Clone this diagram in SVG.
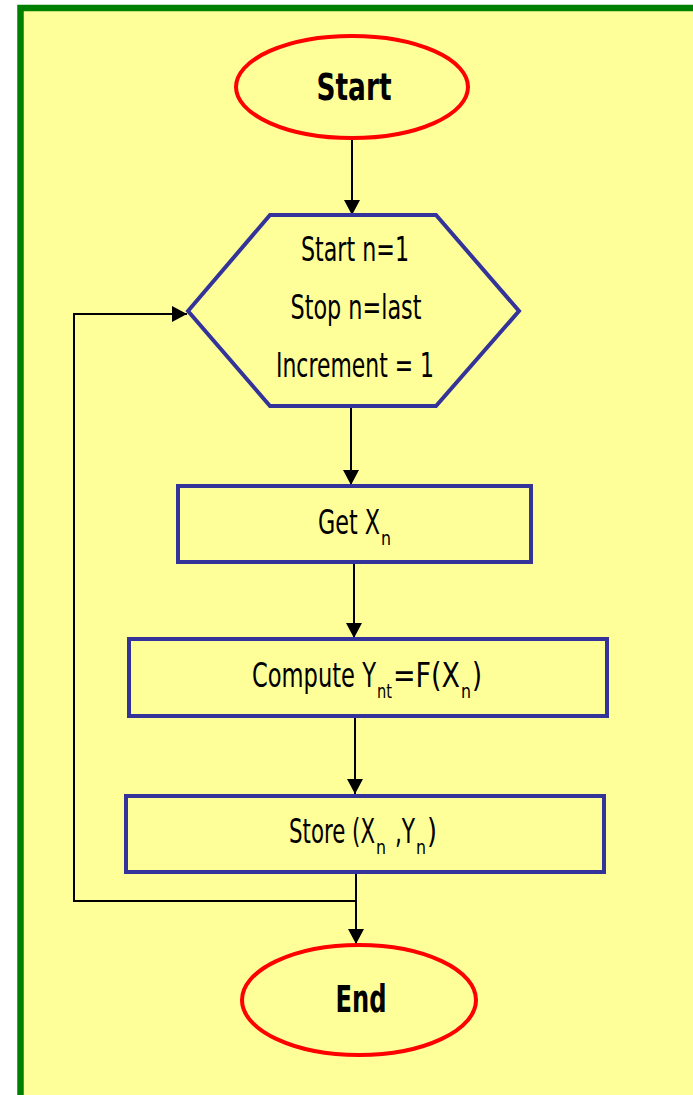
<svg xmlns="http://www.w3.org/2000/svg" width="693" height="1095" viewBox="0 0 693 1095">
<defs>
<style>
.bg{fill:#ffff99;stroke:#008000;stroke-width:6.5}
.term{fill:#ffff99;stroke:#ff0000;stroke-width:4}
.proc{fill:#ffff99;stroke:#333399;stroke-width:4}
.t{font-family:"DejaVu Sans Condensed","DejaVu Sans",sans-serif;fill:#000;font-size:33px}
.b{font-weight:bold;font-size:37px}
.sub{font-size:20px}
.c{fill:none;stroke:#000;stroke-width:2}
</style>
<marker id="ah" markerUnits="userSpaceOnUse" markerWidth="16" markerHeight="16" viewBox="0 0 16 16" refX="15" refY="8" orient="auto">
<path d="M0,0 L15,8 L0,16 Z" fill="#000"/>
</marker>
</defs>
<rect x="0" y="0" width="693" height="1095" fill="#ffffff"/>
<rect class="bg" x="20.5" y="8" width="700" height="1110"/>
<g id="connectors">
<line class="c" x1="352" y1="139" x2="352" y2="215" marker-end="url(#ah)"/>
<line class="c" x1="351" y1="408" x2="351" y2="485" marker-end="url(#ah)"/>
<line class="c" x1="354" y1="564" x2="354" y2="638" marker-end="url(#ah)"/>
<line class="c" x1="355" y1="718" x2="355" y2="794" marker-end="url(#ah)"/>
<line class="c" x1="356" y1="874" x2="356" y2="944" marker-end="url(#ah)"/>
<polyline class="c" points="355,901 74,901 74,314 187,314" marker-end="url(#ah)"/>
</g>
<g id="start">
<ellipse class="term" cx="352" cy="87" rx="116" ry="51"/>
<text class="t b" x="354" y="100" text-anchor="middle" textLength="75" lengthAdjust="spacingAndGlyphs">Start</text>
</g>
<g id="loop">
<polygon class="proc" points="188,311 270,215 436,215 519,311 436,406 270,406"/>
<text class="t" x="355" y="261" text-anchor="middle" textLength="108" lengthAdjust="spacingAndGlyphs">Start n=1</text>
<text class="t" x="356" y="319" text-anchor="middle" textLength="131" lengthAdjust="spacingAndGlyphs">Stop n=last</text>
<text class="t" x="355" y="377" text-anchor="middle" textLength="158" lengthAdjust="spacingAndGlyphs">Increment = 1</text>
</g>
<g id="get">
<rect class="proc" x="178" y="486" width="353" height="76"/>
<text class="t" x="318" y="534"><tspan textLength="62" lengthAdjust="spacingAndGlyphs">Get X</tspan><tspan class="sub" dx="1" dy="11" textLength="10" lengthAdjust="spacingAndGlyphs">n</tspan></text>
</g>
<g id="compute">
<rect class="proc" x="129" y="639" width="478" height="77"/>
<text class="t" x="252" y="687"><tspan textLength="124" lengthAdjust="spacingAndGlyphs">Compute Y</tspan><tspan class="sub" dx="1" dy="11" textLength="15" lengthAdjust="spacingAndGlyphs">nt</tspan><tspan dx="1" dy="-11" textLength="67" lengthAdjust="spacingAndGlyphs">=F(X</tspan><tspan class="sub" dx="1" dy="11" textLength="10" lengthAdjust="spacingAndGlyphs">n</tspan><tspan dx="1" dy="-11" textLength="10" lengthAdjust="spacingAndGlyphs">)</tspan></text>
</g>
<g id="store">
<rect class="proc" x="126" y="796" width="478" height="76"/>
<text class="t" x="289" y="843"><tspan textLength="86" lengthAdjust="spacingAndGlyphs">Store (X</tspan><tspan class="sub" dx="1" dy="11" textLength="10" lengthAdjust="spacingAndGlyphs">n</tspan><tspan dx="2" dy="-11" textLength="27" lengthAdjust="spacingAndGlyphs"> ,Y</tspan><tspan class="sub" dx="1" dy="11" textLength="10" lengthAdjust="spacingAndGlyphs">n</tspan><tspan dx="1" dy="-11" textLength="10" lengthAdjust="spacingAndGlyphs">)</tspan></text>
</g>
<g id="end">
<ellipse class="term" cx="359" cy="1000" rx="117" ry="55"/>
<text class="t b" x="361" y="1012" text-anchor="middle" textLength="51" lengthAdjust="spacingAndGlyphs">End</text>
</g>
</svg>
